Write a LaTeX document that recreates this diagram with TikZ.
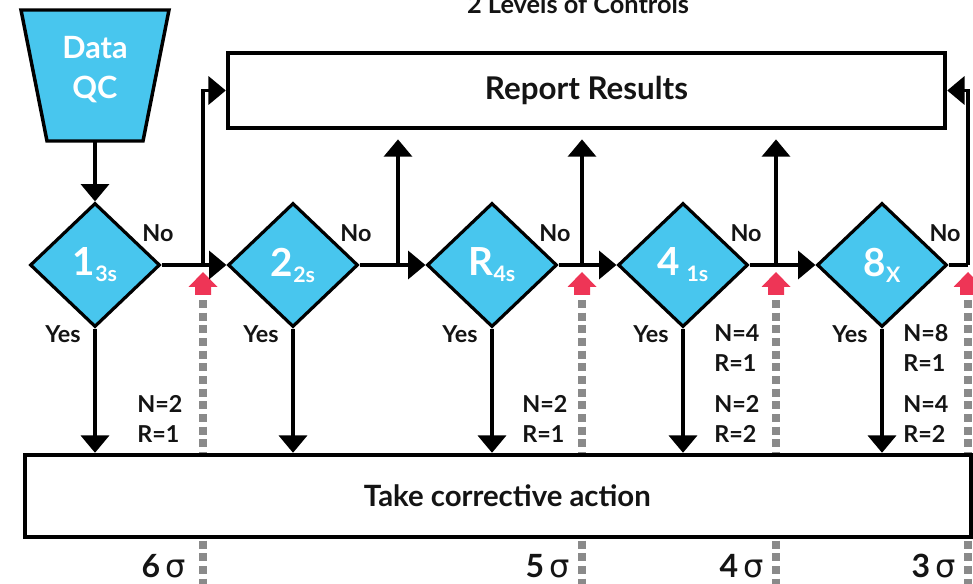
\documentclass[tikz,border=0pt]{standalone}
\usepackage{fontspec}
\setmainfont{Lato}
\newfontfamily\greekfont{DejaVu Sans}
\usetikzlibrary{arrows.meta,shapes.geometric}

\definecolor{qcblue}{HTML}{48C6EE}
\definecolor{alertred}{HTML}{EE3556}
\definecolor{dashgray}{HTML}{8A8A8A}
\definecolor{ink}{HTML}{141414}

% lowered rule index inside a decision diamond
\newcommand\ruleidx[1]{\raisebox{-4.5pt}{\fontsize{16}{16}\selectfont #1}}
\newcommand\sig[1]{#1\,{\greekfont\mdseries σ}}

\tikzset{
  conn/.style={draw=black, line width=2.6pt},
  tip/.style={-{Triangle[width=21pt,length=13pt]}},
  flowbox/.style={draw=black, line width=3.3pt, fill=white, inner sep=0pt, text=ink},
  decision/.style={diamond, draw=black, line width=2.4pt, fill=qcblue,
    minimum width=97.5pt, minimum height=93pt, inner sep=0pt, text=white,
    font=\bfseries\fontsize{29}{30}\selectfont},
  lbl/.style={text=ink, inner sep=0pt, font=\bfseries\fontsize{17.5}{22}\selectfont},
  siglbl/.style={text=ink, inner sep=0pt, font=\bfseries\fontsize{24}{26}\selectfont},
  dashmark/.style={draw=dashgray, line width=6.5pt, dash pattern=on 6pt off 3.5pt},
  redup/.pic={
    \fill[alertred] (0,0) -- (14.5,15) -- (8,15) -- (8,23) -- (-8,23) -- (-8,15) -- (-14.5,15) -- cycle;
  }
}

\begin{document}
\begin{tikzpicture}[x=0.75pt,y=-0.75pt]
\useasboundingbox (0,0) rectangle (973,584);
\clip (0,0) rectangle (973,584);

% title
\node[anchor=base, text=ink, inner sep=0pt, font=\bfseries\fontsize{19}{20}\selectfont]
  (title) at (578,14) {2 Levels of Controls};

% control limit markers: dashed guides behind the action box
\foreach \x [count=\i] in {203,582,776,968} {
  \coordinate (m\i) at (\x,300);
  \coordinate (mb\i) at (\x,590);
  \draw[dashmark] (m\i) -- (mb\i);
  \pic at (\x,272) {redup};
}

% boxes
\node[flowbox, minimum width=537.75pt, minimum height=56pt,
  font=\bfseries\fontsize{23.5}{26}\selectfont] (report) at (586.5,90.5) {Report Results};
\node[flowbox, minimum width=709.5pt, minimum height=61.5pt,
  font=\bfseries\fontsize{22}{24}\selectfont] (act) at (498,496) {\hspace*{14pt}Take corrective action};

% data QC input
\fill[qcblue, draw=black, line width=2.6pt] (21,10) -- (169,10) -- (143,141) -- (47,141) -- cycle;
\node[text=white, align=center, inner sep=0pt,
  font=\bfseries\fontsize{23}{30}\selectfont] (qc) at (95,70) {Data\\QC};
\coordinate (qcb) at (95,141);

% decision diamonds
\node[decision] (d1) at (95,265)  {1\ruleidx{3s}};
\node[decision] (d2) at (293,265) {2\ruleidx{2s}};
\node[decision] (d3) at (492,265) {R\ruleidx{4s}};
\node[decision] (d4) at (683,265) {4\,\ruleidx{1s}};
\node[decision] (d5) at (882,265) {8\ruleidx{X}};

\draw[conn, tip] (qcb) -- (d1.north);

% "No" path: to the next rule
\draw[conn, tip] (d1.east) -- (d2.west);
\draw[conn, tip] (d2.east) -- (d3.west);
\draw[conn, tip] (d3.east) -- (d4.west);
\draw[conn, tip] (d4.east) -- (d5.east -| d5.west);

% branches to Report Results
\coordinate (j1) at (203,265);
\coordinate (j2) at (398,265);
\coordinate (j3) at (582,265);
\coordinate (j4) at (776,265);
\coordinate (j5) at (968,265);
\draw[conn, tip] (j1) |- (report.west);
\draw[conn, tip, shorten >=7pt] (j2) -- (j2 |- report.south);
\draw[conn, tip, shorten >=7pt] (j3) -- (j3 |- report.south);
\draw[conn, tip, shorten >=7pt] (j4) -- (j4 |- report.south);
\draw[conn] (d5.east) -- (j5);
\draw[conn, tip] (j5) |- (report.east);

% "Yes" path: corrective action
\foreach \d in {d1,d2,d3,d4,d5}
  \draw[conn, tip] (\d.south) -- (\d.south |- act.north);

% labels
\foreach \d/\x in {d1/95,d2/293,d3/492,d4/683,d5/882} {
  \node[lbl] (no\d) at (\x+63,233) {No};
  \node[lbl] (yes\d) at (\x-32,334) {Yes};
}
\node[lbl, anchor=west, align=left] (nr1) at (137,419) {N=2\\R=1};
\node[lbl, anchor=west, align=left] (nr3) at (522,419) {N=2\\R=1};
\node[lbl, anchor=west, align=left] (nr4a) at (714,348) {N=4\\R=1};
\node[lbl, anchor=west, align=left] (nr4b) at (714,419) {N=2\\R=2};
\node[lbl, anchor=west, align=left] (nr5a) at (903,348) {N=8\\R=1};
\node[lbl, anchor=west, align=left] (nr5b) at (903,419) {N=4\\R=2};

% sigma levels
\node[siglbl, anchor=base east] (s6) at (186,577) {\sig{6}};
\node[siglbl, anchor=base east] (s5) at (570,577) {\sig{5}};
\node[siglbl, anchor=base east] (s4) at (764,577) {\sig{4}};
\node[siglbl, anchor=base east] (s3) at (956,577) {\sig{3}};
\end{tikzpicture}
\end{document}
